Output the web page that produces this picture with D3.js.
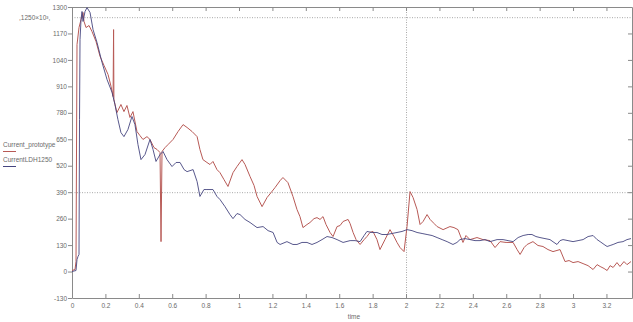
<!DOCTYPE html>
<html>
<head>
<meta charset="utf-8">
<script src="https://cdn.jsdelivr.net/npm/d3@7"></script>
<style>
  body { margin: 0; background: #fff; }
  svg { display: block; font-family: "Liberation Sans", Arial, sans-serif; }
</style>
</head>
<body>
<div id="chart"></div>
<script>
// values
const xTicks = [0, 0.2, 0.4, 0.6, 0.8, 1, 1.2, 1.4, 1.6, 1.8, 2, 2.2, 2.4, 2.6, 2.8, 3, 3.2];
const yTicks = [-130, 0, 130, 260, 390, 520, 650, 780, 910, 1040, 1170, 1300];
const refLevels = [1250, 390];
const refTimes = [2];
const seriesNames = ["Current_prototype", "CurrentLDH1250"];

const protoT = [0, 0.018, 0.024, 0.030, 0.042, 0.054, 0.066, 0.072, 0.084, 0.102, 0.120, 0.144, 0.168, 0.192, 0.216, 0.234, 0.246, 0.249, 0.251, 0.269, 0.293, 0.311, 0.329, 0.347, 0.365, 0.389, 0.407, 0.425, 0.449, 0.467, 0.491, 0.509, 0.527, 0.533, 0.539, 0.557, 0.575, 0.605, 0.635, 0.665, 0.689, 0.719, 0.749, 0.766, 0.784, 0.808, 0.826, 0.844, 0.868, 0.886, 0.910, 0.934, 0.964, 0.988, 1.018, 1.036, 1.066, 1.090, 1.108, 1.138, 1.168, 1.192, 1.216, 1.246, 1.263, 1.293, 1.323, 1.347, 1.365, 1.383, 1.407, 1.425, 1.449, 1.467, 1.485, 1.503, 1.521, 1.545, 1.563, 1.587, 1.605, 1.623, 1.653, 1.665, 1.683, 1.701, 1.725, 1.749, 1.766, 1.784, 1.802, 1.826, 1.844, 1.874, 1.904, 1.928, 1.946, 1.964, 1.988, 2.006, 2.024, 2.042, 2.066, 2.084, 2.102, 2.126, 2.144, 2.168, 2.186, 2.222, 2.263, 2.287, 2.311, 2.341, 2.359, 2.383, 2.425, 2.461, 2.503, 2.533, 2.563, 2.599, 2.641, 2.665, 2.683, 2.707, 2.725, 2.760, 2.790, 2.820, 2.850, 2.880, 2.922, 2.952, 2.976, 3.000, 3.030, 3.060, 3.090, 3.120, 3.144, 3.162, 3.186, 3.204, 3.222, 3.240, 3.263, 3.281, 3.305, 3.323, 3.347];
const protoV = [5, 10, 49, 1115, 1199, 1238, 1273, 1229, 1199, 1209, 1179, 1130, 1057, 1012, 968, 909, 860, 1189, 845, 781, 821, 786, 816, 757, 786, 688, 668, 649, 663, 649, 609, 600, 585, 147, 590, 609, 624, 649, 688, 722, 708, 688, 663, 600, 550, 536, 526, 541, 501, 486, 452, 418, 486, 516, 550, 526, 467, 423, 369, 319, 364, 388, 413, 447, 462, 437, 369, 305, 270, 216, 231, 241, 260, 265, 256, 270, 231, 192, 172, 221, 226, 246, 256, 236, 192, 157, 133, 157, 172, 192, 197, 157, 108, 157, 206, 172, 143, 118, 98, 221, 393, 364, 305, 231, 246, 280, 256, 236, 221, 206, 221, 216, 206, 143, 177, 157, 167, 157, 152, 118, 147, 143, 143, 108, 84, 118, 133, 147, 128, 123, 108, 98, 108, 49, 54, 44, 49, 39, 29, 10, 34, 25, 15, 5, 29, 20, 44, 25, 49, 34, 49];

const ldhT = [0, 0.024, 0.030, 0.036, 0.042, 0.045, 0.048, 0.054, 0.060, 0.066, 0.078, 0.090, 0.108, 0.126, 0.150, 0.180, 0.210, 0.240, 0.257, 0.275, 0.293, 0.311, 0.335, 0.359, 0.377, 0.395, 0.413, 0.437, 0.467, 0.485, 0.503, 0.527, 0.545, 0.569, 0.599, 0.623, 0.647, 0.671, 0.689, 0.725, 0.749, 0.766, 0.790, 0.808, 0.844, 0.868, 0.886, 0.916, 0.946, 0.964, 0.988, 1.006, 1.036, 1.066, 1.108, 1.144, 1.174, 1.204, 1.228, 1.246, 1.287, 1.323, 1.347, 1.377, 1.407, 1.437, 1.467, 1.497, 1.527, 1.557, 1.587, 1.623, 1.665, 1.695, 1.725, 1.749, 1.766, 1.796, 1.826, 1.856, 1.886, 1.916, 1.946, 1.976, 2.006, 2.036, 2.066, 2.096, 2.126, 2.156, 2.186, 2.216, 2.246, 2.281, 2.305, 2.323, 2.353, 2.383, 2.413, 2.443, 2.473, 2.503, 2.545, 2.581, 2.611, 2.641, 2.671, 2.701, 2.731, 2.754, 2.778, 2.802, 2.832, 2.862, 2.886, 2.904, 2.922, 2.940, 2.970, 3.000, 3.030, 3.060, 3.090, 3.120, 3.144, 3.162, 3.186, 3.204, 3.222, 3.240, 3.269, 3.299, 3.323, 3.347];
const ldhV = [0, 5, 59, 74, 84, 747, 1140, 1238, 1278, 1229, 1278, 1297, 1273, 1189, 1125, 1027, 943, 880, 821, 747, 683, 663, 698, 762, 722, 624, 550, 575, 649, 600, 541, 575, 590, 550, 516, 536, 536, 501, 491, 501, 442, 369, 403, 403, 403, 369, 354, 319, 280, 260, 285, 280, 256, 241, 216, 221, 201, 192, 143, 133, 147, 133, 133, 143, 143, 133, 143, 157, 172, 167, 157, 143, 152, 152, 147, 177, 197, 192, 192, 182, 182, 187, 192, 197, 206, 201, 192, 187, 182, 177, 167, 157, 147, 133, 143, 157, 162, 157, 152, 152, 157, 147, 157, 157, 152, 147, 167, 177, 182, 182, 172, 167, 162, 157, 143, 133, 152, 157, 152, 147, 152, 157, 172, 177, 157, 147, 133, 123, 128, 133, 143, 147, 157, 162];

const protoColor = "#b85a56";
const ldhColor = "#45457f";
const axisColor = "#8a8a8a";
const textColor = "#6a6a6a";
const refColor = "#a8a8a8";

const width = 633, height = 322;
const plot = {left: 72, right: 632, top: 7, bottom: 298};

const svg = d3.select("#chart").append("svg")
  .attr("width", width)
  .attr("height", height);

svg.append("rect").attr("width", width).attr("height", height).attr("fill", "#fff");

const x = d3.scaleLinear().domain([0, 3.353]).range([plot.left, plot.right]);
const y = d3.scaleLinear().domain([-130, 1300]).range([plot.bottom, plot.top]);

// reference dotted lines
svg.selectAll(".refH").data(refLevels).join("line")
  .attr("x1", plot.left).attr("x2", plot.right)
  .attr("y1", d => y(d) + 0.5).attr("y2", d => y(d) + 0.5)
  .attr("stroke", refColor).attr("stroke-width", 1)
  .attr("stroke-dasharray", "1,1.5");

svg.selectAll(".refV").data(refTimes).join("line")
  .attr("x1", d => x(d) + 0.5).attr("x2", d => x(d) + 0.5)
  .attr("y1", plot.top).attr("y2", plot.bottom)
  .attr("stroke", refColor).attr("stroke-width", 1)
  .attr("stroke-dasharray", "1,1.5");

// axes
const fmt = d => String(+d.toFixed(1));

function styleAxis(g) {
  g.select(".domain").attr("stroke", axisColor);
  g.selectAll(".tick line").attr("stroke", axisColor);
  g.selectAll(".tick text").attr("fill", textColor).style("font-size", "6.5px");
}

svg.append("g")
  .attr("transform", `translate(0,${plot.bottom})`)
  .call(d3.axisBottom(x).tickValues(xTicks).tickFormat(fmt).tickSizeInner(-4).tickSizeOuter(0).tickPadding(5))
  .call(styleAxis);

svg.append("g")
  .attr("transform", `translate(0,${plot.top})`)
  .call(d3.axisTop(x).tickValues(xTicks).tickFormat("").tickSizeInner(-4).tickSizeOuter(0))
  .call(styleAxis);

svg.append("g")
  .attr("transform", `translate(${plot.left},0)`)
  .call(d3.axisLeft(y).tickValues(yTicks).tickFormat(d => d < 0 ? "-" + Math.abs(d) : d).tickSizeInner(4).tickSizeOuter(0).tickPadding(1))
  .call(styleAxis);

svg.append("g")
  .attr("transform", `translate(${plot.right},0)`)
  .call(d3.axisRight(y).tickValues(yTicks).tickFormat("").tickSizeInner(-4).tickSizeOuter(0))
  .call(styleAxis);

// curves
const line = d3.line().x(d => x(d[0])).y(d => y(d[1]));

svg.append("path")
  .datum(d3.zip(protoT, protoV))
  .attr("d", line)
  .attr("fill", "none")
  .attr("stroke", protoColor)
  .attr("stroke-width", 1)
  .attr("stroke-linejoin", "round");

svg.append("path")
  .datum(d3.zip(ldhT, ldhV))
  .attr("d", line)
  .attr("fill", "none")
  .attr("stroke", ldhColor)
  .attr("stroke-width", 0.9)
  .attr("stroke-linejoin", "round");

// texts
svg.append("text")
  .attr("x", 354).attr("y", 319)
  .attr("text-anchor", "middle")
  .attr("fill", textColor)
  .style("font-size", "6.5px")
  .text("time");

svg.append("text")
  .attr("x", 19).attr("y", 20)
  .attr("fill", textColor)
  .style("font-size", "6.5px")
  .text(",1250×10³,");

// legend
const legendColors = [protoColor, ldhColor];
const legend = svg.selectAll(".legend").data(seriesNames).join("g")
  .attr("transform", (d, i) => `translate(3,${147 + i * 15})`);

legend.append("text")
  .attr("fill", textColor)
  .style("font-size", "6.5px")
  .text(d => d);

legend.append("line")
  .attr("x1", 0).attr("x2", 13)
  .attr("y1", 4.5).attr("y2", 4.5)
  .attr("stroke", (d, i) => legendColors[i])
  .attr("stroke-width", 1);
</script>
</body>
</html>
